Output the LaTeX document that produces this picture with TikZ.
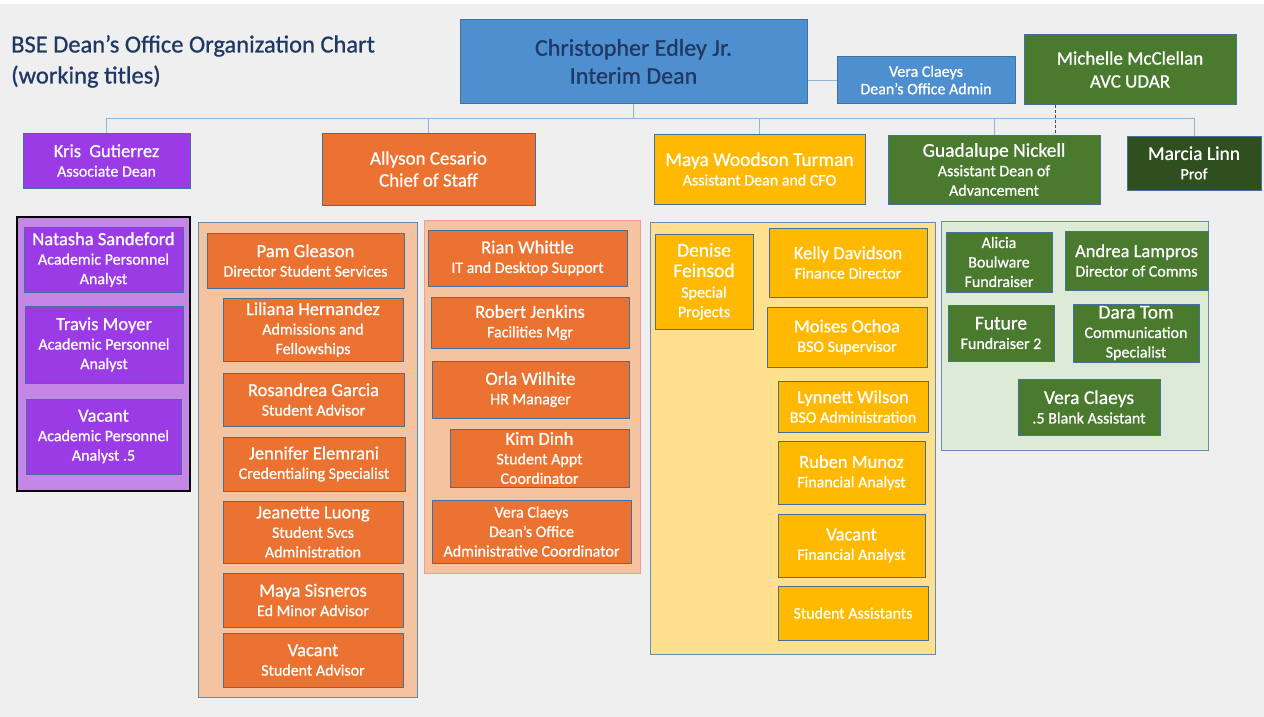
\documentclass[tikz,border=0pt]{standalone}
\usepackage{fontspec}
\setmainfont{Carlito}[FakeBold=0.8]
\usetikzlibrary{positioning}

\definecolor{bgGrey}{HTML}{EFEFEF}
\definecolor{navy}{HTML}{1F3864}
\definecolor{deanBlue}{HTML}{4E8FCF}
\definecolor{edgeB}{HTML}{41719C}
\definecolor{lineB}{HTML}{8FB4DE}
\definecolor{purp}{HTML}{9B3BE6}
\definecolor{purpL}{HTML}{C487E6}
\definecolor{oran}{HTML}{EB7230}
\definecolor{oranL}{HTML}{F4C3A0}
\definecolor{pinkE}{HTML}{F59A96}
\definecolor{gold}{HTML}{FFB900}
\definecolor{goldL}{HTML}{FEE08F}
\definecolor{grn}{HTML}{4A7A2E}
\definecolor{grnD}{HTML}{2F4F1F}
\definecolor{grnL}{HTML}{DDEBD6}

\newcommand{\nm}[1]{{\fontsize{18.5}{21}\selectfont #1}}
\newcommand{\nmL}[1]{{\fontsize{19.5}{22}\selectfont #1}}

\begin{document}
\begin{tikzpicture}[x=1pt, y=-1pt,
    box/.style={fill=#1, draw=edgeB, line width=1pt, text=white, inner sep=0pt,
      align=center, font=\fontsize{16}{19.5}\selectfont},
    grp/.style={draw=#1, line width=1pt},
    conn/.style={draw=lineB, line width=0.9pt}]
  \fill[white] (0,0) rectangle (1264,717);
  \fill[bgGrey] (0,4) rectangle (1264,717);

  % title
  \node[anchor=north west, align=left, inner sep=0pt, text=navy,
    font=\fontsize{24.5}{31}\selectfont] (title) at (11,35)
    {BSE Dean’s Office Organization Chart\\(working titles)};

  % top level
  \node[box=deanBlue, text=navy, font=\fontsize{24}{28}\selectfont,
    minimum width=347, minimum height=83] (dean) at (633.5,61.5)
    {Christopher Edley Jr.\\Interim Dean};
  \node[box=deanBlue, font=\fontsize{16}{17.5}\selectfont,
    minimum width=178, minimum height=46] (admin) at (926,80)
    {Vera Claeys\\Dean’s Office Admin};
  \node[box=grn, font=\fontsize{19}{23}\selectfont,
    minimum width=212, minimum height=69] (udar) at (1130,69.5)
    {Michelle McClellan\\AVC UDAR};

  % second level
  \node[box=purp, minimum width=167, minimum height=55] (kris) at (106.5,160.5)
    {\nm{Kris\ \ Gutierrez}\\Associate Dean};
  \node[box=oran, font=\fontsize{19}{22}\selectfont,
    minimum width=213, minimum height=72] (allyson) at (428.5,169)
    {Allyson Cesario\\Chief of Staff};
  \node[box=gold, minimum width=211, minimum height=70] (maya) at (759.5,169)
    {\nmL{Maya Woodson Turman}\\Assistant Dean and CFO};
  \node[box=grn, minimum width=212, minimum height=69] (guad) at (994,169.5)
    {\nmL{Guadalupe Nickell}\\Assistant Dean of\\Advancement};
  \node[box=grnD, minimum width=134, minimum height=54] (marcia) at (1194,163)
    {\nmL{Marcia Linn}\\Prof};

  % connectors
  \coordinate (bar) at (0,118);
  \draw[conn] (dean.east |- admin.west) -- (admin.west);
  \draw[conn] (kris.north) -- (kris.north |- bar) -- (marcia.north |- bar) -- (marcia.north);
  \foreach \n in {dean.south, allyson.north, maya.north, guad.north}
    \draw[conn] (\n) -- (\n |- bar);
  \draw[densely dashed, line width=1pt, black!70]
    ([xshift=32]udar.south west) -- ([xshift=32]udar.south west |- guad.north);

  % purple group
  \draw[grp=black, fill=purpL, line width=1.5pt] (17,217) rectangle (190,491);
  \node[box=purp, minimum width=159, minimum height=65] (natasha) at (103.5,259.5)
    {\nm{Natasha Sandeford}\\Academic Personnel\\Analyst};
  \node[box=purp, minimum width=158, minimum height=77] (travis) at (104,344.5)
    {\nm{Travis Moyer}\\Academic Personnel\\Analyst};
  \node[box=purp, minimum width=155, minimum height=75] (vacAP) at (103.5,436.5)
    {\nm{Vacant}\\Academic Personnel\\Analyst .5};

  % student services group
  \draw[grp=edgeB!80, fill=oranL] (198,222) rectangle (417,697);
  \node[box=oran, minimum width=197, minimum height=55] (pam) at (305.5,260.5)
    {\nm{Pam Gleason}\\Director Student Services};
  \begin{scope}[every node/.append style={draw=none}]
    \node[box=oran, minimum width=180, minimum height=63] (liliana) at (313,329.5)
      {\nm{Liliana Hernandez}\\Admissions and\\Fellowships};
    \node[box=oran, minimum width=181, minimum height=53] (rosandrea) at (313.5,399.5)
      {\nm{Rosandrea Garcia}\\Student Advisor};
    \node[box=oran, minimum width=182, minimum height=54] (jennifer) at (314,464)
      {\nm{Jennifer Elemrani}\\Credentialing Specialist};
    \node[box=oran, minimum width=180, minimum height=62] (jeanette) at (313,532)
      {\nm{Jeanette Luong}\\Student Svcs\\Administration};
    \node[box=oran, minimum width=180, minimum height=54] (sisneros) at (313,600)
      {\nm{Maya Sisneros}\\Ed Minor Advisor};
    \node[box=oran, minimum width=180, minimum height=54] (vacSA) at (313,660)
      {\nm{Vacant}\\Student Advisor};
  \end{scope}

  % operations group
  \draw[grp=pinkE, fill=oranL] (424,220) rectangle (640,573);
  \begin{scope}[every node/.append style={draw=pinkE}]
    \node[box=oran, minimum width=199, minimum height=56] (rian) at (527.5,258)
      {\nm{Rian Whittle}\\IT and Desktop Support};
    \node[box=oran, minimum width=198, minimum height=51] (robert) at (530,322.5)
      {\nm{Robert Jenkins}\\Facilities Mgr};
    \node[box=oran, minimum width=197, minimum height=57] (orla) at (530.5,389.5)
      {\nm{Orla Wilhite}\\HR Manager};
    \node[box=oran, minimum width=179, minimum height=58] (kim) at (539.5,458)
      {\nm{Kim Dinh}\\Student Appt\\Coordinator};
  \end{scope}
  \node[box=oran, minimum width=199, minimum height=63] (veraOC) at (531.5,531.5)
    {Vera Claeys\\Dean’s Office\\Administrative Coordinator};

  % finance group
  \draw[grp=edgeB!80, fill=goldL] (650,222) rectangle (935,654);
  \begin{scope}[every node/.append style={draw=none}]
    \node[box=gold, minimum width=98, minimum height=95] (denise) at (704,281.5)
      {\nmL{Denise}\\[1pt]\nmL{Feinsod}\\[1pt]Special\\Projects};
    \node[box=gold, minimum width=158, minimum height=69] (kelly) at (848,262.5)
      {\nm{Kelly Davidson}\\Finance Director};
    \node[box=gold, minimum width=160, minimum height=60] (moises) at (847,337)
      {\nm{Moises Ochoa}\\BSO Supervisor};
    \node[box=gold, minimum width=150, minimum height=51] (lynnett) at (853,406.5)
      {\nm{Lynnett Wilson}\\BSO Administration};
    \node[box=gold, minimum width=147, minimum height=63] (ruben) at (851.5,472.5)
      {\nm{Ruben Munoz}\\Financial Analyst};
    \node[box=gold, minimum width=147, minimum height=63] (vacFA) at (851.5,545.5)
      {\nm{Vacant}\\Financial Analyst};
    \node[box=gold, minimum width=150, minimum height=54] (students) at (853,613)
      {Student Assistants};
  \end{scope}

  % advancement group
  \draw[grp=edgeB!80, fill=grnL] (941,221) rectangle (1208,450);
  \node[box=grn, minimum width=106, minimum height=60] (alicia) at (999,262)
    {Alicia\\Boulware\\Fundraiser};
  \node[box=grn, minimum width=143, minimum height=59] (andrea) at (1136.5,260.5)
    {\nm{Andrea Lampros}\\Director of Comms};
  \node[box=grn, minimum width=106, minimum height=56] (future) at (1001,333)
    {\nmL{Future}\\Fundraiser 2};
  \node[box=grn, minimum width=126, minimum height=58] (dara) at (1136,333)
    {\nmL{Dara Tom}\\Communication\\Specialist};
  \node[box=grn, minimum width=142, minimum height=56] (veraBA) at (1089,407)
    {\nmL{Vera Claeys}\\.5 Blank Assistant};
\end{tikzpicture}
\end{document}
